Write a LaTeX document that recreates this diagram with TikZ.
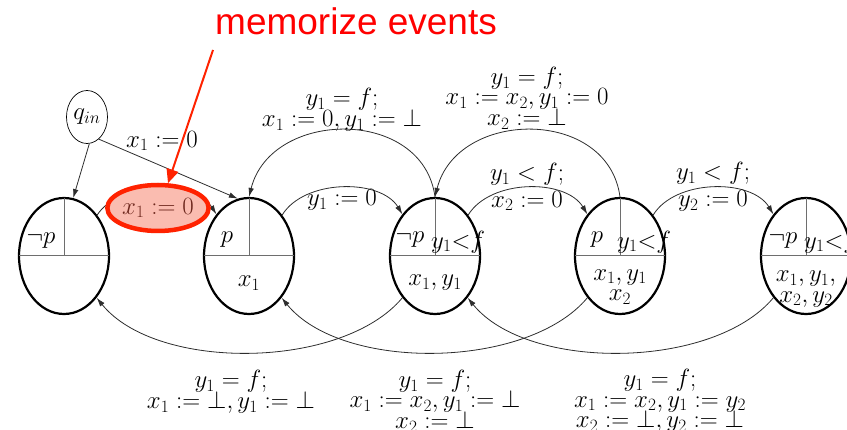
\documentclass[tikz,border=0pt]{standalone}
\usepackage{fontspec}
\newfontfamily\memofont{Liberation Sans}
\usetikzlibrary{shapes.geometric,arrows.meta}
\DeclareMathSizes{24}{24}{17}{12}
\definecolor{mred}{RGB}{255,34,0}
\definecolor{memored}{RGB}{255,0,0}
\definecolor{salmon}{RGB}{250,188,176}
\definecolor{redtext}{RGB}{110,40,30}
\definecolor{quadgray}{RGB}{110,110,110}
\definecolor{conngray}{RGB}{45,45,45}
\newcommand{\lblfont}{\fontsize{24}{20.5}\selectfont\lineskiplimit=-30pt\relax}
\tikzset{
  lbl/.style={font=\lblfont, inner sep=1pt, align=center},
  stt/.style={ellipse, draw=black, line width=2.2pt, minimum width=90pt, minimum height=116pt, inner sep=0pt},
  initstate/.style={ellipse, draw=black, line width=0.7pt, minimum width=41pt, minimum height=53pt, inner sep=0pt, font=\lblfont},
  quadh/.style={draw=quadgray, line width=1pt, shorten <=1.1pt, shorten >=1.1pt},
  quadv/.style={draw=quadgray, line width=1pt, shorten <=1.1pt},
  conn/.style={draw=conngray, line width=0.8pt, -{Latex[length=9pt,width=5.5pt]}},
  memo/.style={font=\memofont\fontsize{37}{40}\selectfont, text=memored, inner sep=0pt},
  redbox/.style={ellipse, draw=mred, line width=4.5pt, fill=salmon, text=redtext, minimum width=96pt, minimum height=46pt, inner sep=0pt, font=\lblfont},
  redarrow/.style={draw=mred, line width=2pt, -{Triangle[length=14pt,width=12pt]}}
}
\begin{document}
\begin{tikzpicture}[x=1pt,y=1pt]
\useasboundingbox (0,0) rectangle (847,-430);
\clip (0,0) rectangle (847,-430);

% states
\node[initstate] (qin) at (87,-117) {$q_{in}$};
\node[stt] (E1) at (64,-256) {};
\node[stt] (E2) at (249,-256) {};
\node[stt] (E3) at (435,-256) {};
\node[stt] (E4) at (620,-256) {};
\node[stt] (E5) at (806,-256) {};
\foreach \n in {E1,E2,E3,E4,E5}{
  \draw[quadh] (\n.west) -- (\n.east);
  \draw[quadv] (\n.north) -- (\n.center);
}

% state contents
\node[lbl] (E1a) at (41,-241) {$\neg p$};
\node[lbl] (E2a) at (227,-240) {$p$};
\node[lbl] (E2b) at (249,-283) {$x_1$};
\node[lbl] (E3a) at (410,-240) {$\neg p$};
\node[lbl, anchor=west, inner sep=0pt] (E3b) at (431,-242) {$y_1{<}f$};
\node[lbl] (E3c) at (435,-283) {$x_1, y_1$};
\node[lbl] (E4a) at (597,-240) {$p$};
\node[lbl, anchor=west, inner sep=0pt] (E4b) at (617,-242) {$y_1{<}f$};
\node[lbl] (E4c) at (620,-287) {$x_1, y_1$\\$x_2$};
\node[lbl] (E5a) at (783,-241) {$\neg p$};
\node[lbl, anchor=west, inner sep=0pt] (E5b) at (804,-242) {$y_1{<}f$};
\node[lbl] (E5c) at (806,-289) {$x_1, y_1,$\\$x_2, y_2$};

% initial transitions
\draw[conn] (qin.-85) -- (E1.81);
\draw[conn] (qin.-62) -- (E2.101);
\node[lbl] (Lq) at (162,-141) {$x_1 := 0$};

% forward small arcs
\draw[conn] (E1.51) .. controls +(22,34) and +(-22,34) .. (E2.128);
\draw[conn] (E2.51) .. controls +(22,36) and +(-22,36) .. (E3.128);
\draw[conn] (E3.51) .. controls +(22,36) and +(-22,36) .. (E4.128);
\draw[conn] (E4.51) .. controls +(22,36) and +(-22,36) .. (E5.128);
\node[lbl] (L23) at (342,-200) {$y_1 := 0$};
\node[lbl] (L34) at (527,-187) {$y_1 < f;$\\[6pt]$x_2 := 0$};
\node[lbl] (L45) at (713,-187) {$y_1 < f;$\\[6pt]$y_2 := 0$};

% backward top arcs
\draw[conn] (E3.north) .. controls +(-12,90) and +(22,88) .. (E2.north);
\draw[conn] (E4.north) .. controls +(-12,90) and +(22,88) .. (E3.north);
\node[lbl] (L32) at (342,-110) {$y_1 = f;$\\$x_1 := 0, y_1 := \bot$};
\node[lbl] (L43) at (527,-98) {$y_1 = f;$\\$x_1 := x_2, y_1 := 0$\\$x_2 := \bot$};

% backward bottom arcs
\draw[conn] (E3.-128) .. controls +(-60,-72) and +(60,-74) .. (E1.-52);
\draw[conn] (E4.-128) .. controls +(-60,-72) and +(60,-74) .. (E2.-52);
\draw[conn] (E5.-128) .. controls +(-60,-72) and +(60,-74) .. (E3.-52);
\node[lbl] (L31) at (231,-392) {$y_1 = f;$\\$x_1 := \bot, y_1 := \bot$};
\node[lbl] (L42) at (435,-401) {$y_1 = f;$\\$x_1 := x_2, y_1 := \bot$\\$x_2 := \bot$};
\node[lbl] (L53) at (660,-401) {$y_1 = f;$\\$x_1 := x_2, y_1 := y_2$\\$x_2 := \bot, y_2 := \bot$};

% highlighted label and annotation
\node[redbox] (redlab) at (158,-208) {$x_1 := 0$};
\node[memo, anchor=base west] (mem) at (215,-35) {memorize events};
\coordinate (mstart) at (213,-50);
\draw[redarrow] (mstart) -- (redlab.68);
\end{tikzpicture}
\end{document}
